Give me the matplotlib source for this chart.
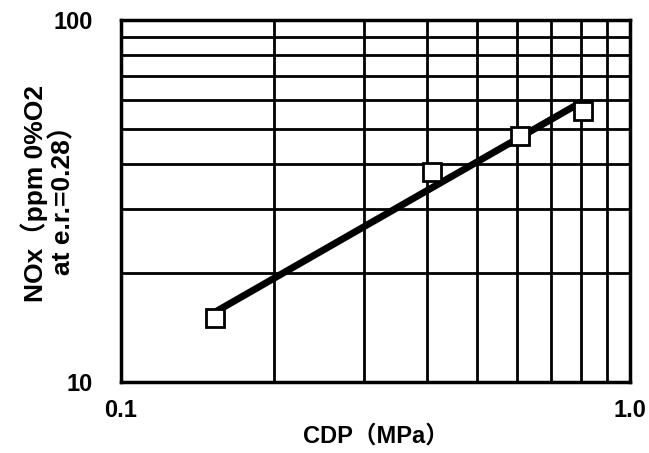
import numpy as np
import matplotlib
matplotlib.use("Agg")
import matplotlib.pyplot as plt
from matplotlib.ticker import FixedLocator, NullFormatter

# measured points (CDP in MPa, NOx ppm)
cdp = [0.153, 0.408, 0.608, 0.809]
nox = [15.0, 38.0, 47.8, 56.1]

# trend line end points
fit_x = [0.153, 0.809]
fit_y = [15.6, 59.7]

fam = ['Liberation Sans', 'Noto Sans CJK JP']

fig = plt.figure(figsize=(6.49, 4.53), dpi=100)
ax = fig.add_axes([121/649, 1 - 382/453, (630-121)/649, (382-20)/453])

ax.set_xscale('log')
ax.set_yscale('log')
ax.set_xlim(0.1, 1.0)
ax.set_ylim(10, 100)

ax.xaxis.set_major_locator(FixedLocator([0.1, 1.0]))
ax.xaxis.set_minor_locator(FixedLocator(np.arange(0.2, 1.0, 0.1)))
ax.yaxis.set_major_locator(FixedLocator([10, 100]))
ax.yaxis.set_minor_locator(FixedLocator(np.arange(20, 100, 10)))
ax.xaxis.set_minor_formatter(NullFormatter())
ax.yaxis.set_minor_formatter(NullFormatter())
ax.set_xticklabels(['0.1', '1.0'], family=fam, fontsize=17, fontweight='bold')
ax.set_yticklabels(['10', '100'], family=fam, fontsize=17, fontweight='bold')
ax.tick_params(which='both', length=0)
ax.tick_params(axis='x', pad=12)
ax.tick_params(axis='y', pad=20)

ax.grid(which='minor', color='black', linewidth=2)
for s in ax.spines.values():
    s.set_linewidth(2.5)

ax.plot(fit_x, fit_y, color='black', linewidth=5, solid_capstyle='butt', zorder=3)
ax.plot(cdp, nox, linestyle='none', marker='s', markersize=12.5,
        markerfacecolor='white', markeredgecolor='black', markeredgewidth=2, zorder=4)

ax.set_xlabel('CDP（MPa）', family=fam, fontsize=17, fontweight='bold', labelpad=2)
ax.set_ylabel('NOx（ppm 0%O2\nat e.r.=0.28）', family=fam, fontsize=19,
              fontweight='bold', linespacing=1.1)
ax.yaxis.set_label_coords(-0.09, 0.52)

fig.savefig('out.png', dpi=100)
